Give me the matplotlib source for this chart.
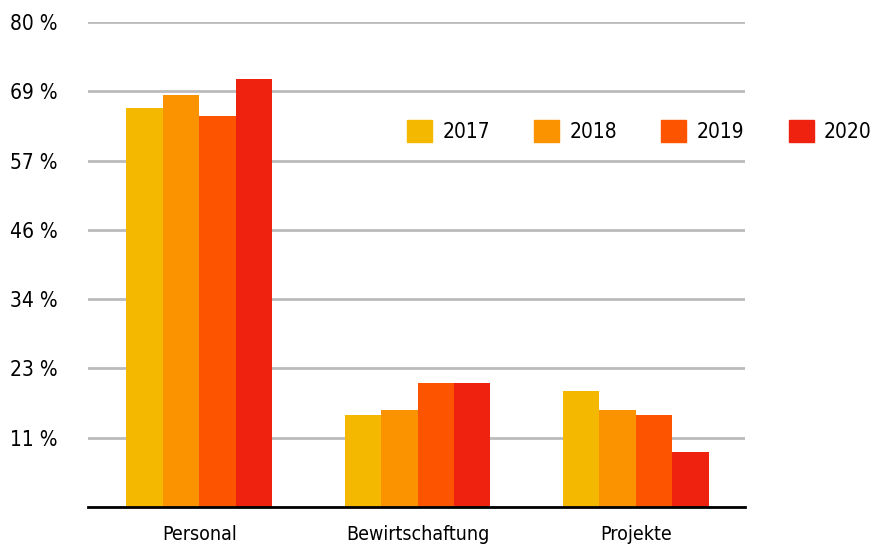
import numpy as np
import matplotlib.pyplot as plt
from matplotlib.patches import Patch

categories = ['Personal', 'Bewirtschaftung', 'Projekte']
years = ['2017', '2018', '2019', '2020']
values = {
    '2017': [65.8, 15.2, 19.1],
    '2018': [68.0, 16.0, 16.0],
    '2019': [64.5, 20.5, 15.2],
    '2020': [70.6, 20.5, 9.1],
}
colors = ['#F5B800', '#FB9200', '#FD5400', '#EE220F']
ytick_labels = ['', '11 %', '23 %', '34 %', '46 %', '57 %', '69 %', '80 %']

plt.rcParams['font.family'] = ['DejaVu Sans']
plt.rcParams['font.stretch'] = 'condensed'

fig = plt.figure(figsize=(8.77, 5.51), dpi=100)
ax = fig.add_axes([88 / 877, 44 / 551, 657 / 877, 485 / 551])

x = np.arange(len(categories))
w = 0.167
for i, yr in enumerate(years):
    ax.bar(x + (i - 1.5) * w, values[yr], width=w, color=colors[i], zorder=3)

ax.set_ylim(0, 80)
ax.set_xlim(-0.51, 2.5)
ax.set_yticks(np.linspace(0, 80, 8))
ax.set_yticklabels(ytick_labels, fontsize=15)
ax.set_xticks(x)
ax.set_xticklabels(categories, fontsize=14)
ax.tick_params(axis='both', length=0)
ax.tick_params(axis='y', pad=22)
ax.tick_params(axis='x', pad=13)
ax.grid(axis='y', color='#bbbbbb', linewidth=2, zorder=0)
for s in ['left', 'right', 'top']:
    ax.spines[s].set_visible(False)
ax.spines['bottom'].set_linewidth(2)
ax.spines['bottom'].set_zorder(4)

handles = [Patch(color=c, label=y) for c, y in zip(colors, years)]
fig.legend(handles=handles, loc='center left', ncol=4, frameon=False,
           bbox_to_anchor=(407 / 877, 1 - 131 / 551), borderaxespad=0, borderpad=0,
           fontsize=15, handlelength=1.2, handleheight=1.2, handletextpad=0.5,
           columnspacing=2.12)

fig.savefig('out.png', dpi=100)
